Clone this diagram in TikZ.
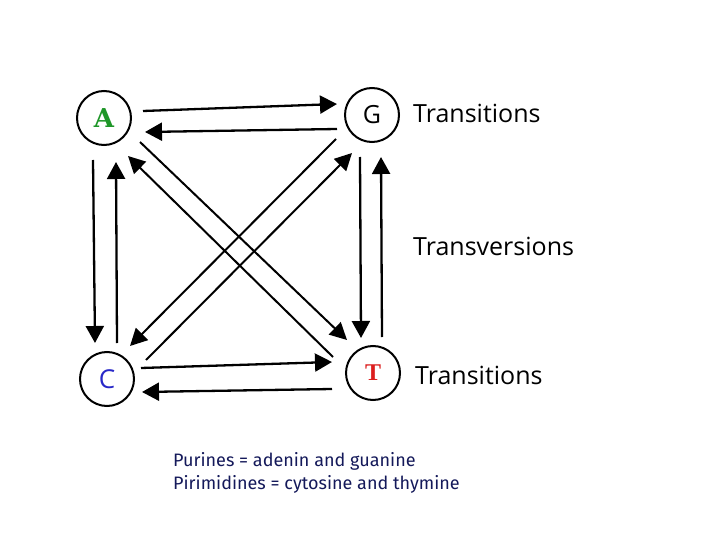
\documentclass[tikz,border=0pt]{standalone}
\usepackage{fontspec}
\usetikzlibrary{arrows.meta,calc}
\newfontfamily\labfont{Open Sans}
\newfontfamily\legfont{Fira Sans}
\newfontfamily\slabfont{DejaVu Serif}
\newfontfamily\serifb{Liberation Serif}
\definecolor{agreen}{RGB}{30,150,40}
\definecolor{cblue}{RGB}{40,40,200}
\definecolor{tred}{RGB}{220,30,30}
\definecolor{legblue}{RGB}{20,25,90}
\tikzset{
  base/.style={circle,draw=black,line width=2pt,minimum size=54pt,inner sep=0pt},
  arr/.style={line width=2.3pt,-{Triangle[length=17pt,width=18pt]}},
  darr/.style={line width=2pt,-{Triangle[length=17pt,width=17pt]}},
  lab/.style={anchor=base west,font=\labfont\fontsize{25}{30}\selectfont,inner sep=0pt},
  leg/.style={anchor=base west,font=\legfont\fontsize{18}{21}\selectfont,text=legblue,inner sep=0pt,align=left}
}
\begin{document}
\begin{tikzpicture}[x=1pt,y=-1pt]
\useasboundingbox[fill=white] (0,0) rectangle (720,540);
\node[base] (A) at (104,118) {\slabfont\bfseries\fontsize{26}{30}\selectfont\color{agreen}A};
\node[base] (G) at (372,115) {\labfont\fontsize{25}{30}\selectfont G};
\node[base] (C) at (107,379) {\labfont\fontsize{26}{30}\selectfont\color{cblue}C};
\node[base] (T) at (373,373) {\serifb\bfseries\fontsize{24}{26}\selectfont\color{tred}T};
% top
\draw[arr] ([shift={(39,-7)}]A.center) -- ([shift={(-35,-11)}]G.center);
\draw[arr] ([shift={(-35,14)}]G.center) -- ([shift={(41,14)}]A.center);
% left
\draw[arr] ([shift={(-11,42)}]A.center) -- ([shift={(-12,-36)}]C.center);
\draw[arr] ([shift={(10,-36)}]C.center) -- ([shift={(12,44)}]A.center);
% right
\draw[arr] ([shift={(-12,42)}]G.center) -- ([shift={(-12,-35)}]T.center);
\draw[arr] ([shift={(9,-36)}]T.center) -- ([shift={(9,42)}]G.center);
% bottom
\draw[arr] ([shift={(34,-11)}]C.center) -- ([shift={(-41,-11)}]T.center);
\draw[arr] ([shift={(-41,16)}]T.center) -- ([shift={(35,13)}]C.center);
% diagonals
\draw[darr] ([shift={(36,24)}]A.center) -- ([shift={(-26,-33)}]T.center);
\draw[darr] ([shift={(-40,-16)}]T.center) -- ([shift={(24,38)}]A.center);
\draw[darr] ([shift={(-36,24)}]G.center) -- ([shift={(23,-33)}]C.center);
\draw[darr] ([shift={(39,-19)}]C.center) -- ([shift={(-20,38)}]G.center);
% labels
\node[lab] (t1) at (413,123) {Transitions};
\node[lab] (t2) at (413,255) {Transversions};
\node[lab] (t3) at (415,384) {Transitions};
\node[leg] (l1) at (173,466) {Purines = adenin and guanine};
\node[leg] (l2) at (173,489) {Pirimidines = cytosine and thymine};
\end{tikzpicture}
\end{document}
